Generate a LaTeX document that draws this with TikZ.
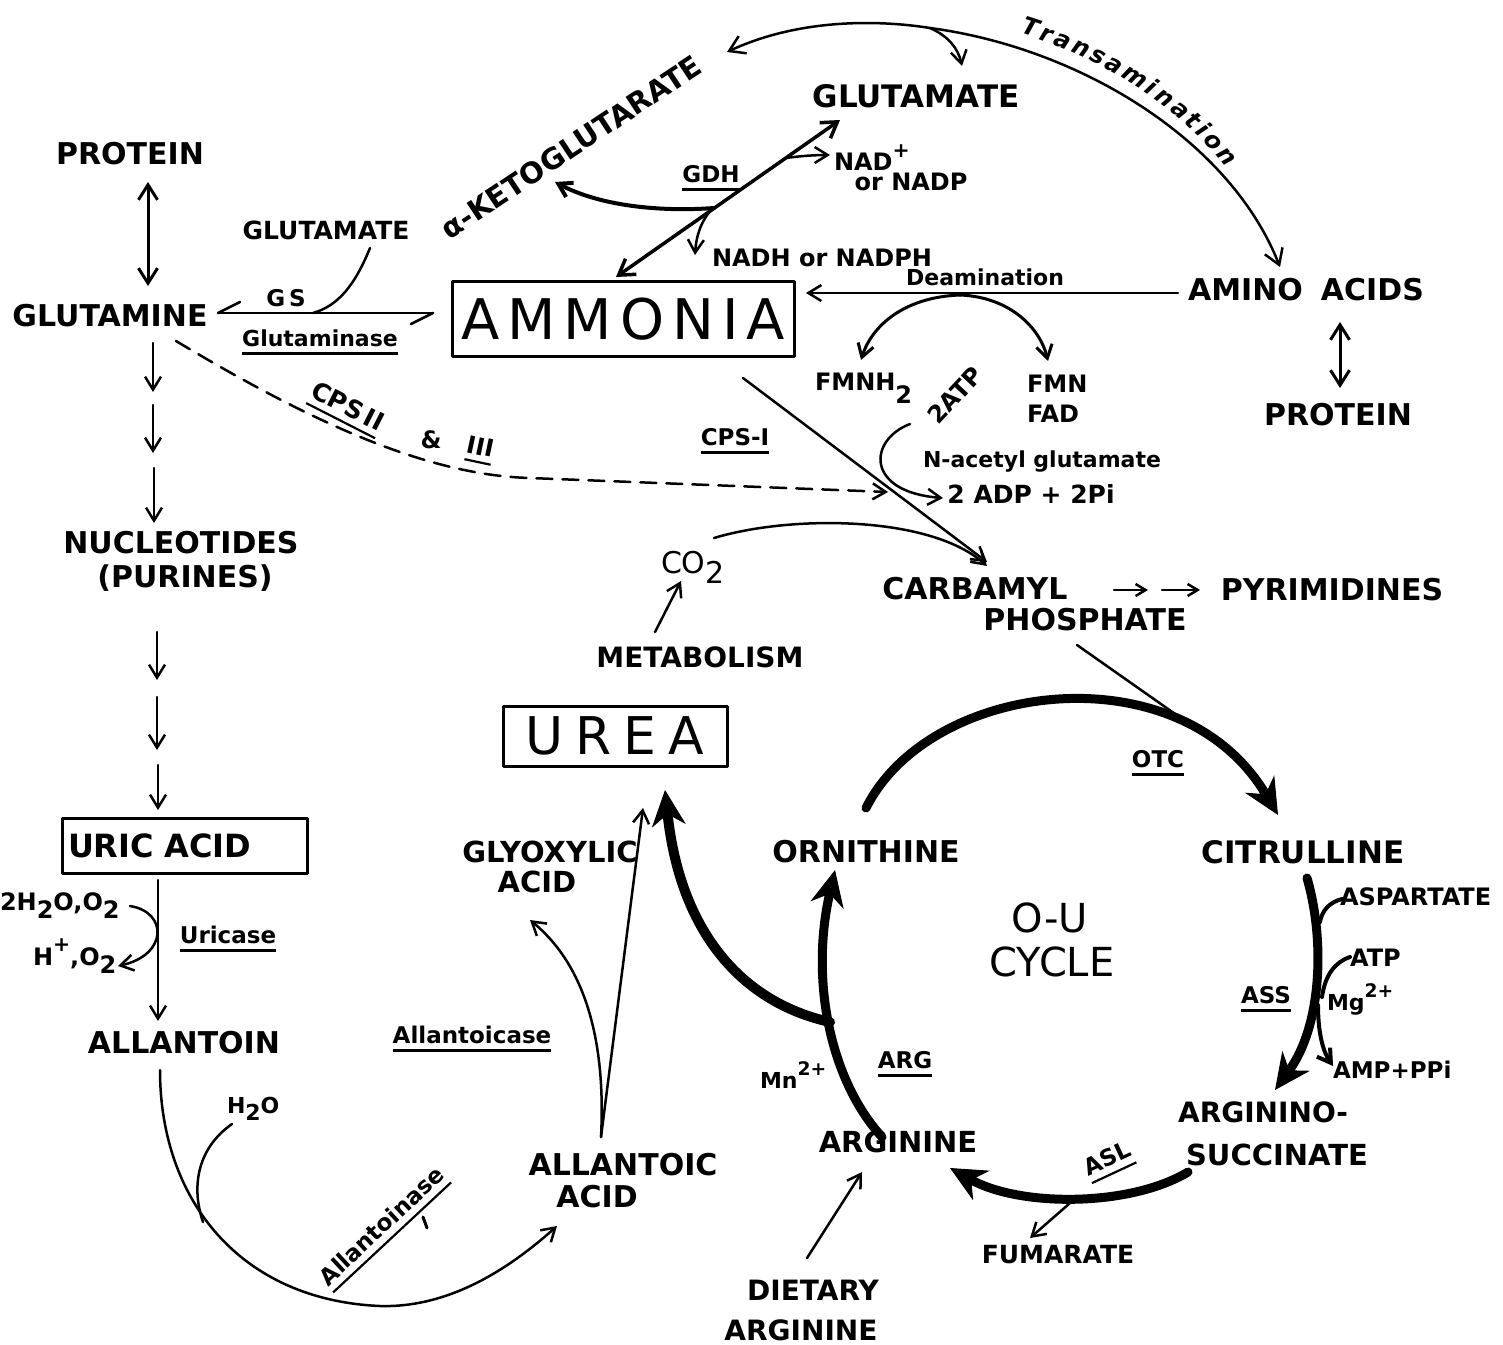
\documentclass[tikz,border=0pt]{standalone}
\usepackage{fontspec}
\usepackage{graphicx}
\setmainfont{DejaVu Sans}
\usetikzlibrary{arrows.meta,decorations.text}
\newcommand\fsz[1]{\fontsize{#1}{#1}\selectfont}
\newcommand\ulx[1]{\setbox0\hbox{#1}\vtop{\copy0\kern6pt\hrule height 2.2pt width \wd0}}
\newcommand\lo[1]{\raisebox{-0.35em}{#1}}
\newcommand\hi[1]{\raisebox{0.55em}{\scalebox{0.85}{#1}}}
\begin{document}
\begin{tikzpicture}[x=1pt,y=-1pt,line cap=round,line join=round,
 every node/.style={inner sep=0pt,outer sep=0pt},
 tx/.style={font=\fsz{#1}\bfseries},
 rg/.style={font=\fsz{#1}},
 bx/.style={draw,line width=3pt},
 ln/.style={line width=2.5pt},
 ar/.style={line width=2.5pt,-{Straight Barb[length=13pt,width=16pt]}},
 dar/.style={line width=3pt,{Straight Barb[length=15pt,width=19pt]}-{Straight Barb[length=15pt,width=19pt]}},
 thk/.style={line width=9pt,-{Stealth[length=36pt,width=34pt,line width=1pt]}}]
\useasboundingbox (0,0) rectangle (1503,1344);
\fill[white] (0,0) rectangle (1503,1344);

% ---------- nodes ----------
\node[tx=30] (protL) at (130,154) {PROTEIN};
\node[tx=30] (gln) at (110,316) {GLUTAMINE};
\node[tx=25] (gluS) at (326,230) {GLUTAMATE};
\node[tx=29,rotate=33.5] (akg) at (571,147) {α-KETOGLUTARATE};
\node[tx=31] (gluT) at (916,96) {GLUTAMATE};
\node[tx=24,anchor=west] (nad) at (834,158) {NAD\hi{+}};
\node[tx=24] (nadp) at (911,182) {or NADP};
\node[tx=23,anchor=base] (gdh) at (711,182) {\ulx{GDH}};
\node[tx=24] (nadh) at (822,258) {NADH or NADPH};
\node[bx,minimum width=342pt,minimum height=75pt,font=\fsz{56}] (amm) at (623,319) {A\kern8pt M\kern8pt M\kern8pt O\kern8pt N\kern8pt I\kern8pt A};
\node[tx=22] (deam) at (985,277) {Deamination};
\node[tx=30] (aa) at (1306,290) {AMINO\hspace{0.6em}ACIDS};
\node[tx=30] (protR) at (1338,415) {PROTEIN};
\node[tx=24,anchor=base west] (fmnh) at (815,390) {FMNH\raisebox{-0.55em}{2}};
\node[tx=24,anchor=base west] (fmn) at (1027,392) {FMN};
\node[tx=24,anchor=base west] (fad) at (1027,422) {FAD};
\node[tx=24,rotate=47] (atp2) at (955,395) {2ATP};
\node[tx=23,anchor=base] (cps1) at (735,445) {\ulx{CPS-I}};
\node[tx=22] (nag) at (1042,462) {N-acetyl glutamate};
\node[tx=25] (adp) at (1031,494) {2 ADP + 2Pi};
\node[tx=25,rotate=-27,anchor=base] (cps2) at (344,414) {\ulx{CPS\,II}};
\node[tx=24] (amp) at (431,440) {\&};
\node[tx=24,rotate=-12,anchor=base] (cps3) at (479,455) {\ulx{III}};
\node[rg=30,anchor=base west] (co2) at (661,573) {CO\lo{2}};
\node[tx=28] (metab) at (700,657) {METABOLISM};
\node[tx=30] (carb) at (975,589) {CARBAMYL};
\node[tx=30] (phos) at (1085,620) {PHOSPHATE};
\node[tx=30] (pyr) at (1332,590) {PYRIMIDINES};
\node[bx,minimum width=224pt,minimum height=60pt,font=\fsz{52}] (urea) at (615,736) {U\kern12pt R\kern12pt E\kern12pt A};
\node[tx=30] (orn) at (866,852) {ORNITHINE};
\node[tx=31] (cit) at (1303,852) {CITRULLINE};
\node[rg=40] (ou) at (1050,918) {O-U};
\node[rg=40] (cyc) at (1052,962) {CYCLE};
\node[tx=23,anchor=base] (otc) at (1158,767) {\ulx{OTC}};
\node[tx=24,anchor=west] (asp) at (1340,897) {ASPARTATE};
\node[tx=24,anchor=west] (atp) at (1350,958) {ATP};
\node[tx=22,anchor=base west] (mg) at (1327,1010) {Mg\hi{2+}};
\node[tx=23,anchor=base] (ass) at (1266,1003) {\ulx{ASS}};
\node[tx=23,anchor=west] (ampp) at (1333,1070) {AMP+PPi};
\node[tx=28] (argino) at (1263,1112) {ARGININO-};
\node[tx=29] (succ) at (1277,1155) {SUCCINATE};
\node[tx=23,rotate=25,anchor=base] (asl) at (1111,1166) {\ulx{ASL}};
\node[tx=25] (fum) at (1058,1255) {FUMARATE};
\node[tx=29] (arg) at (898,1142) {ARGININE};
\node[tx=22,anchor=base west] (mn) at (760,1088) {Mn\hi{2+}};
\node[tx=23,anchor=base] (argE) at (905,1068) {\ulx{ARG}};
\node[tx=28] (diet) at (813,1290) {DIETARY};
\node[tx=28] (diet2) at (801,1330) {ARGININE};
\node[tx=29] (glyox) at (550,852) {GLYOXYLIC};
\node[tx=29] (glyac) at (537,882) {ACID};
\node[tx=30] (allac) at (623,1165) {ALLANTOIC};
\node[tx=30] (allac2) at (597,1197) {ACID};
\node[tx=23,anchor=base] (allcase) at (472,1043) {\ulx{Allantoicase}};
\node[tx=23,rotate=43,anchor=base] (allnase) at (387,1232) {\ulx{Allantoinase}};
\node[tx=30] (allan) at (184,1043) {ALLANTOIN};
\node[tx=22,anchor=base west] (h2o) at (227,1113) {H\lo{2}O};
\node[bx,tx=32,minimum width=245pt,minimum height=55pt,text width=233pt,align=left,inner xsep=6pt] (uric) at (184.5,845.5) {URIC ACID};
\node[tx=23,anchor=base] (uricase) at (228,943) {\ulx{Uricase}};
\node[tx=24,anchor=base west] (h2oo2) at (0,910) {2H\lo{2}O,O\lo{2}};
\node[tx=24,anchor=base west] (hpo2) at (33,965) {H\hi{+},O\lo{2}};
\node[tx=30] (nuc) at (181,543) {NUCLEOTIDES};
\node[tx=30] (pur) at (185,578) {(PURINES)};
\node[tx=23] (gs) at (286,298) {G\kern4pt S};
\node[tx=22,anchor=base] (glnase) at (320,346) {\ulx{Glutaminase}};

% ---------- coordinates ----------
\coordinate (pl1) at (148,182); \coordinate (pl2) at (148,286);
\coordinate (g1a) at (153,343); \coordinate (g1b) at (153,392);
\coordinate (g2a) at (153,405); \coordinate (g2b) at (153,453);
\coordinate (g3a) at (154,468); \coordinate (g3b) at (154,523);
\coordinate (n1a) at (157,632); \coordinate (n1b) at (157,680);
\coordinate (n2a) at (157,697); \coordinate (n2b) at (157,750);
\coordinate (n3a) at (158,765); \coordinate (n3b) at (158,810);
\coordinate (u1) at (158,880); \coordinate (u2) at (158,1021);
\coordinate (us1) at (130,906); \coordinate (us2) at (118,966);
\coordinate (al1) at (160,1070); \coordinate (al2) at (557,1226);
\coordinate (hw1) at (232,1124); \coordinate (hw2) at (203,1222);
\coordinate (ac0) at (601,1137); \coordinate (gx) at (530,920); \coordinate (ur1) at (643,808);
\coordinate (tk1) at (423,1217); \coordinate (tk2) at (427,1228);
\coordinate (gsL) at (218,313); \coordinate (gsR) at (433,313);
\coordinate (gm) at (370,248); \coordinate (gj) at (313,313);
\coordinate (gdA) at (616,277); \coordinate (gdB) at (840,120);
\coordinate (gdj) at (714,208); \coordinate (akgT) at (555,182);
\coordinate (nadS) at (786,158); \coordinate (nadT) at (830,155);
\coordinate (nhS) at (712,209); \coordinate (nhT) at (695,255);
\coordinate (trA) at (727,52); \coordinate (trM) at (930,28); \coordinate (trB) at (1280,267); \coordinate (trG) at (962,66);
\coordinate (tt1) at (1020,33); \coordinate (tt2) at (1226,168);
\coordinate (deA) at (1178,293); \coordinate (deB) at (806,293);
\coordinate (deC) at (960,295); \coordinate (fmT) at (861,360); \coordinate (fnT) at (1048,361);
\coordinate (pr1) at (1340,322); \coordinate (pr2) at (1340,388);
\coordinate (cpA) at (743,378); \coordinate (cpB) at (987,562);
\coordinate (atA) at (910,424); \coordinate (atB) at (943,498);
\coordinate (dsA) at (176,341); \coordinate (dsM) at (530,478); \coordinate (dsB) at (888,492);
\coordinate (coA) at (714,538); \coordinate (coT) at (987,566);
\coordinate (meA) at (655,632); \coordinate (meB) at (681,581);
\coordinate (py1a) at (1114,590); \coordinate (py1b) at (1148,590);
\coordinate (py2a) at (1162,590); \coordinate (py2b) at (1200,590);
\coordinate (phA) at (1077,645); \coordinate (phB) at (1178,716);
\coordinate (oA) at (866,808); \coordinate (oB) at (1278,815);
\coordinate (cA) at (1307,878); \coordinate (cB) at (1275,1090);
\coordinate (sA) at (1188,1172); \coordinate (sB) at (950,1168);
\coordinate (rA) at (882,1137); \coordinate (rB) at (835,870);
\coordinate (rJ) at (830,1022); \coordinate (uB) at (665,790);
\coordinate (aspS) at (1320,922); \coordinate (aspT) at (1342,899);
\coordinate (atpS) at (1322,997); \coordinate (atpT) at (1350,957);
\coordinate (ampS) at (1318,1005); \coordinate (ampT) at (1333,1066);
\coordinate (fuA) at (1070,1203); \coordinate (fuB) at (1030,1238);
\coordinate (diA) at (807,1258); \coordinate (diB) at (862,1172);

% ---------- connectors ----------
\draw[dar] (pl1) -- (pl2);
\draw[dar] (pr1) -- (pr2);
\foreach \a/\b in {g1a/g1b,g2a/g2b,g3a/g3b,n1a/n1b,n2a/n2b,n3a/n3b,u1/u2} \draw[ar] (\a) -- (\b);
\draw[ar] (us1) .. controls (168,912) and (168,955) .. (us2);
\draw[ar] (al1) .. controls (160,1200) and (240,1300) .. (380,1306) .. controls (450,1308) and (510,1268) .. (al2);
\draw[ln] (hw1) .. controls (195,1150) and (192,1190) .. (hw2);
\draw[ar] (ac0) .. controls (606,1040) and (585,965) .. (gx);
\draw[ar] (ac0) -- (ur1);
\draw[line width=3pt] (tk1) -- (tk2);
% GS / glutaminase
\draw[ln] (gsL) -- (gsR);
\draw[ln] (gsL) -- ++(22,-11);
\draw[ln] (gsR) -- ++(-22,11);
\draw[ln] (gm) .. controls (355,285) and (338,306) .. (gj);
% GDH
\draw[dar,line width=3.5pt] (gdA) -- (gdB);
\draw[ar,line width=4pt] (gdj) .. controls (660,212) and (600,206) .. (akgT);
\draw[ar] (nadS) .. controls (800,156) and (815,155) .. (nadT);
\draw[ar] (nhS) .. controls (700,222) and (696,238) .. (nhT);
% transamination
\draw[dar,line width=2.5pt] (trA) .. controls (800,18) and (880,20) .. (trM) .. controls (1080,48) and (1230,140) .. (trB);
\draw[ar] (trM) .. controls (948,36) and (958,48) .. (trG);
\path[decorate,decoration={text along path,text={|\fsz{24}\bfseries\itshape|Transamination},text align={fit to path}}] (tt1) .. controls (1100,58) and (1172,100) .. (tt2);
% deamination
\draw[ar] (deA) -- (deB);
\draw[ar,line width=3pt] (deC) .. controls (905,297) and (872,325) .. (fmT);
\draw[ar,line width=3pt] (deC) .. controls (1010,297) and (1040,328) .. (fnT);
% CPS
\draw[ar] (cpA) -- (cpB);
\draw[ar] (atA) .. controls (868,440) and (865,492) .. (atB);
\draw[ar,dash pattern=on 16pt off 10pt] (dsA) .. controls (300,415) and (420,475) .. (dsM) -- (dsB);
\draw[ar] (coA) .. controls (790,515) and (930,515) .. (coT);
\draw[ar] (meA) -- (meB);
\draw[line width=2.5pt,-{Straight Barb[length=10pt,width=12pt]}] (py1a) -- (py1b);
\draw[line width=2.5pt,-{Straight Barb[length=10pt,width=12pt]}] (py2a) -- (py2b);
\draw[ln] (phA) -- (phB);
% cycle
\draw[thk] (oA) .. controls (930,680) and (1180,650) .. (oB);
\draw[thk] (cA) .. controls (1325,940) and (1322,1025) .. (cB);
\draw[thk] (sA) .. controls (1130,1207) and (1020,1207) .. (sB);
\draw[thk] (rA) .. controls (830,1080) and (810,980) .. (rB);
\draw[thk,line width=10pt] (rJ) .. controls (740,1002) and (680,930) .. (uB);
\draw[line width=4pt] (aspS) .. controls (1322,910) and (1330,902) .. (aspT);
\draw[line width=4pt] (atpS) .. controls (1325,975) and (1335,962) .. (atpT);
\draw[ar,line width=4pt] (ampS) .. controls (1318,1030) and (1322,1050) .. (ampT);
\draw[ar] (fuA) -- (fuB);
\draw[ar] (diA) -- (diB);
\end{tikzpicture}
\end{document}
